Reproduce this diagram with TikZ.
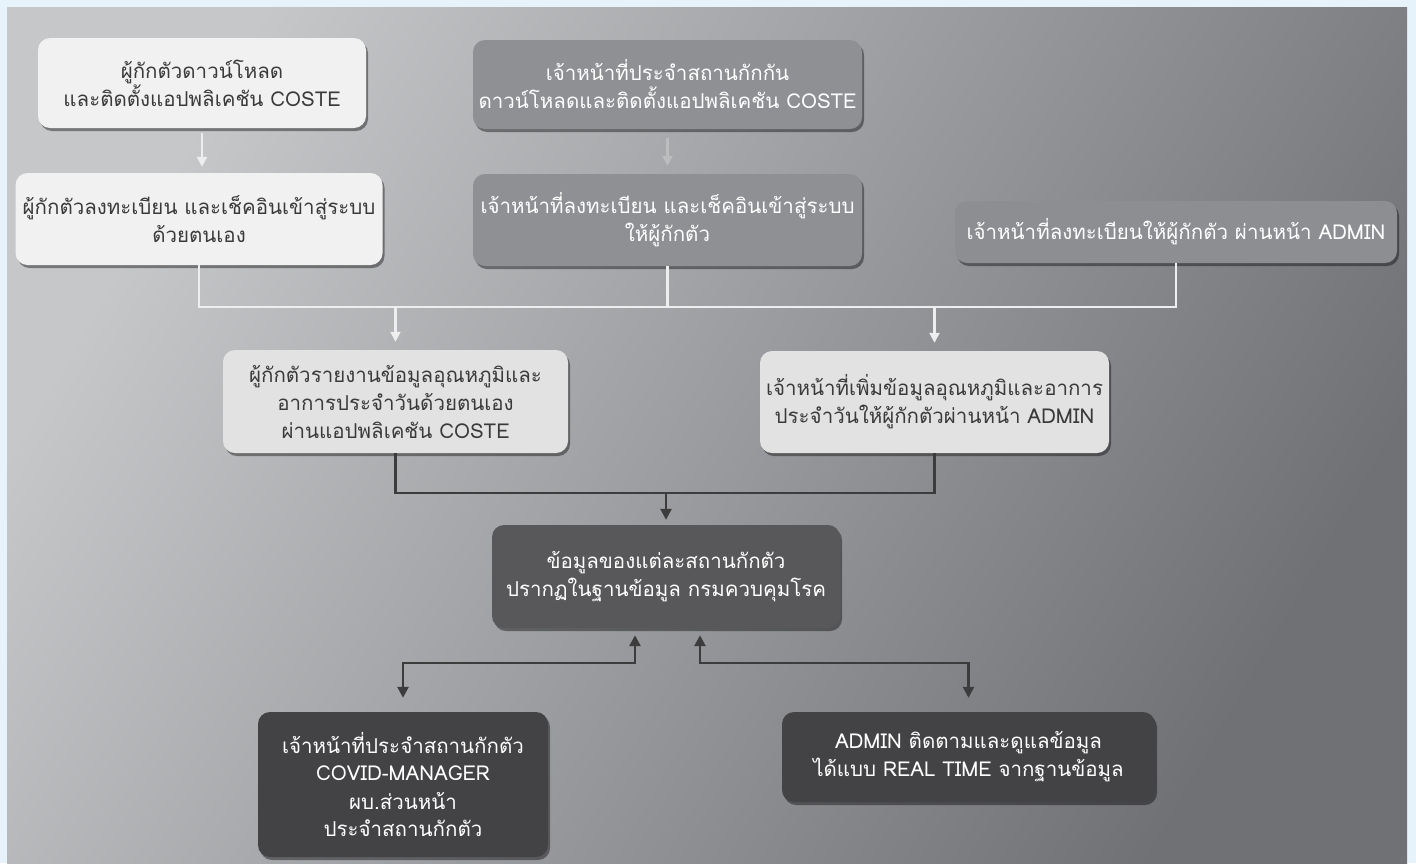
\documentclass[tikz,border=0pt]{standalone}
\usepackage{fontspec}
\newfontfamily\thaifont[Script=Thai]{Loma}
\usetikzlibrary{arrows.meta,shadows,calc}
\definecolor{frameblue}{HTML}{E6F3FA}
\definecolor{bgA}{HTML}{C6C7C9}
\definecolor{bgB}{HTML}{707175}
\definecolor{whitebox}{HTML}{F1F1F1}
\definecolor{lightbox}{HTML}{E2E2E2}
\definecolor{midbox}{HTML}{8F9094}
\definecolor{midboxE}{HTML}{8D8E92}
\definecolor{darkbox}{HTML}{58585A}
\definecolor{darkerbox}{HTML}{434345}
\definecolor{darktext}{HTML}{3A3A3A}
\definecolor{wline}{HTML}{EEEEEE}
\definecolor{fline}{HTML}{BCBDBF}
\definecolor{dline}{HTML}{3C3C3C}
\begin{document}
\begin{tikzpicture}[x=1pt,y=-1pt,
  box/.style={rounded corners=12pt, inner sep=0pt, align=center,
    font=\thaifont\fontsize{20.5}{28}\selectfont,
    drop shadow={shadow xshift=2pt,shadow yshift=-3pt,opacity=0.4,fill=black}},
  wbox/.style={box, fill=whitebox, text=darktext},
  lbox/.style={box, fill=lightbox, text=darktext},
  mbox/.style={box, fill=midbox, text=white},
  hbox/.style={box, fill=darkbox, text=white},
  dbox/.style={box, fill=darkerbox, text=white},
  wconn/.style={draw=wline, line width=2.2pt},
  wtip/.style={wconn, -{Triangle[width=10pt,length=10pt]}},
  ftip/.style={draw=fline, line width=2.2pt, -{Triangle[width=10pt,length=10pt]}},
  dconn/.style={draw=dline, line width=2.6pt},
  dtip/.style={dconn, -{Triangle[width=11pt,length=11pt]}},
  dtips/.style={dconn, {Triangle[width=11pt,length=11pt]}-{Triangle[width=11pt,length=11pt]}}
]
\useasboundingbox (0,0) rectangle (1416,863);
\fill[frameblue] (0,0) rectangle (1416,863);
\shade[top color=bgA, bottom color=bgB, shading angle=60] (7,7) rectangle (1407,863);

% nodes
\node[wbox, minimum width=328pt, minimum height=90pt] (A) at (202,83)
  {ผู้กักตัวดาวน์โหลด\\และติดตั้งแอปพลิเคชัน COSTE};
\node[wbox, minimum width=367pt, minimum height=92pt] (B) at (199,219)
  {ผู้กักตัวลงทะเบียน และเช็คอินเข้าสู่ระบบ\\ด้วยตนเอง};
\node[mbox, minimum width=389pt, minimum height=89pt] (C) at (667.5,84.5)
  {เจ้าหน้าที่ประจำสถานกักกัน\\ดาวน์โหลดและติดตั้งแอปพลิเคชัน COSTE};
\node[mbox, minimum width=389pt, minimum height=92pt] (D) at (667.5,220)
  {เจ้าหน้าที่ลงทะเบียน และเช็คอินเข้าสู่ระบบ\\ให้ผู้กักตัว};
\node[mbox, fill=midboxE, minimum width=442pt, minimum height=62pt] (E) at (1176,232)
  {เจ้าหน้าที่ลงทะเบียนให้ผู้กักตัว ผ่านหน้า ADMIN};
\node[lbox, minimum width=345pt, minimum height=103pt] (F) at (395.5,401.5)
  {ผู้กักตัวรายงานข้อมูลอุณหภูมิและ\\อาการประจำวันด้วยตนเอง\\ผ่านแอปพลิเคชัน COSTE};
\node[lbox, minimum width=349pt, minimum height=102pt] (G) at (934.5,402)
  {เจ้าหน้าที่เพิ่มข้อมูลอุณหภูมิและอาการ\\ประจำวันให้ผู้กักตัวผ่านหน้า ADMIN};
\node[hbox, minimum width=348pt, minimum height=103pt] (H) at (666,576.5)
  {ข้อมูลของแต่ละสถานกักตัว\\ปรากฏในฐานข้อมูล กรมควบคุมโรค};
\node[dbox, minimum width=290pt, minimum height=145pt] (I) at (403,784.5)
  {เจ้าหน้าที่ประจำสถานกักตัว\\COVID-MANAGER\\ผบ.ส่วนหน้า\\ประจำสถานกักตัว};
\node[dbox, minimum width=373pt, minimum height=90pt] (J) at (968.5,757)
  {ADMIN ติดตามและดูแลข้อมูล\\ได้แบบ REAL TIME จากฐานข้อมูล};

\coordinate (wbus) at (0,307);
\coordinate (dbus) at (0,493);
\coordinate (lbus) at (0,663);

% top arrows
\draw[wtip, shorten <=5pt, shorten >=6pt] (A.south) -- (A.south |- B.north);
\draw[ftip, shorten <=9pt, shorten >=8pt] (C.south) -- (C.south |- D.north);

% white bus
\draw[wconn] (B.south) -- (B.south |- wbus) -- (E.south |- wbus) -- (E.south);
\draw[wconn] (D.south) -- (D.south |- wbus);
\draw[wtip, shorten >=8pt] (F.north |- wbus) -- (F.north);
\draw[wtip, shorten >=8pt] (G.north |- wbus) -- (G.north);

% dark bus
\draw[dconn] (F.south) -- (F.south |- dbus) -- (G.south |- dbus) -- (G.south);
\draw[dtip, shorten >=5pt] (H.north |- dbus) -- (H.north);

% bottom two-way arrows
\draw[dtips, shorten <=7pt, shorten >=14pt]
  ([xshift=-31pt]H.south) -- ([xshift=-31pt]H.south |- lbus) -| (I.north);
\draw[dtips, shorten <=7pt, shorten >=14pt]
  ([xshift=34pt]H.south) -- ([xshift=34pt]H.south |- lbus) -| (J.north);
\end{tikzpicture}
\end{document}
